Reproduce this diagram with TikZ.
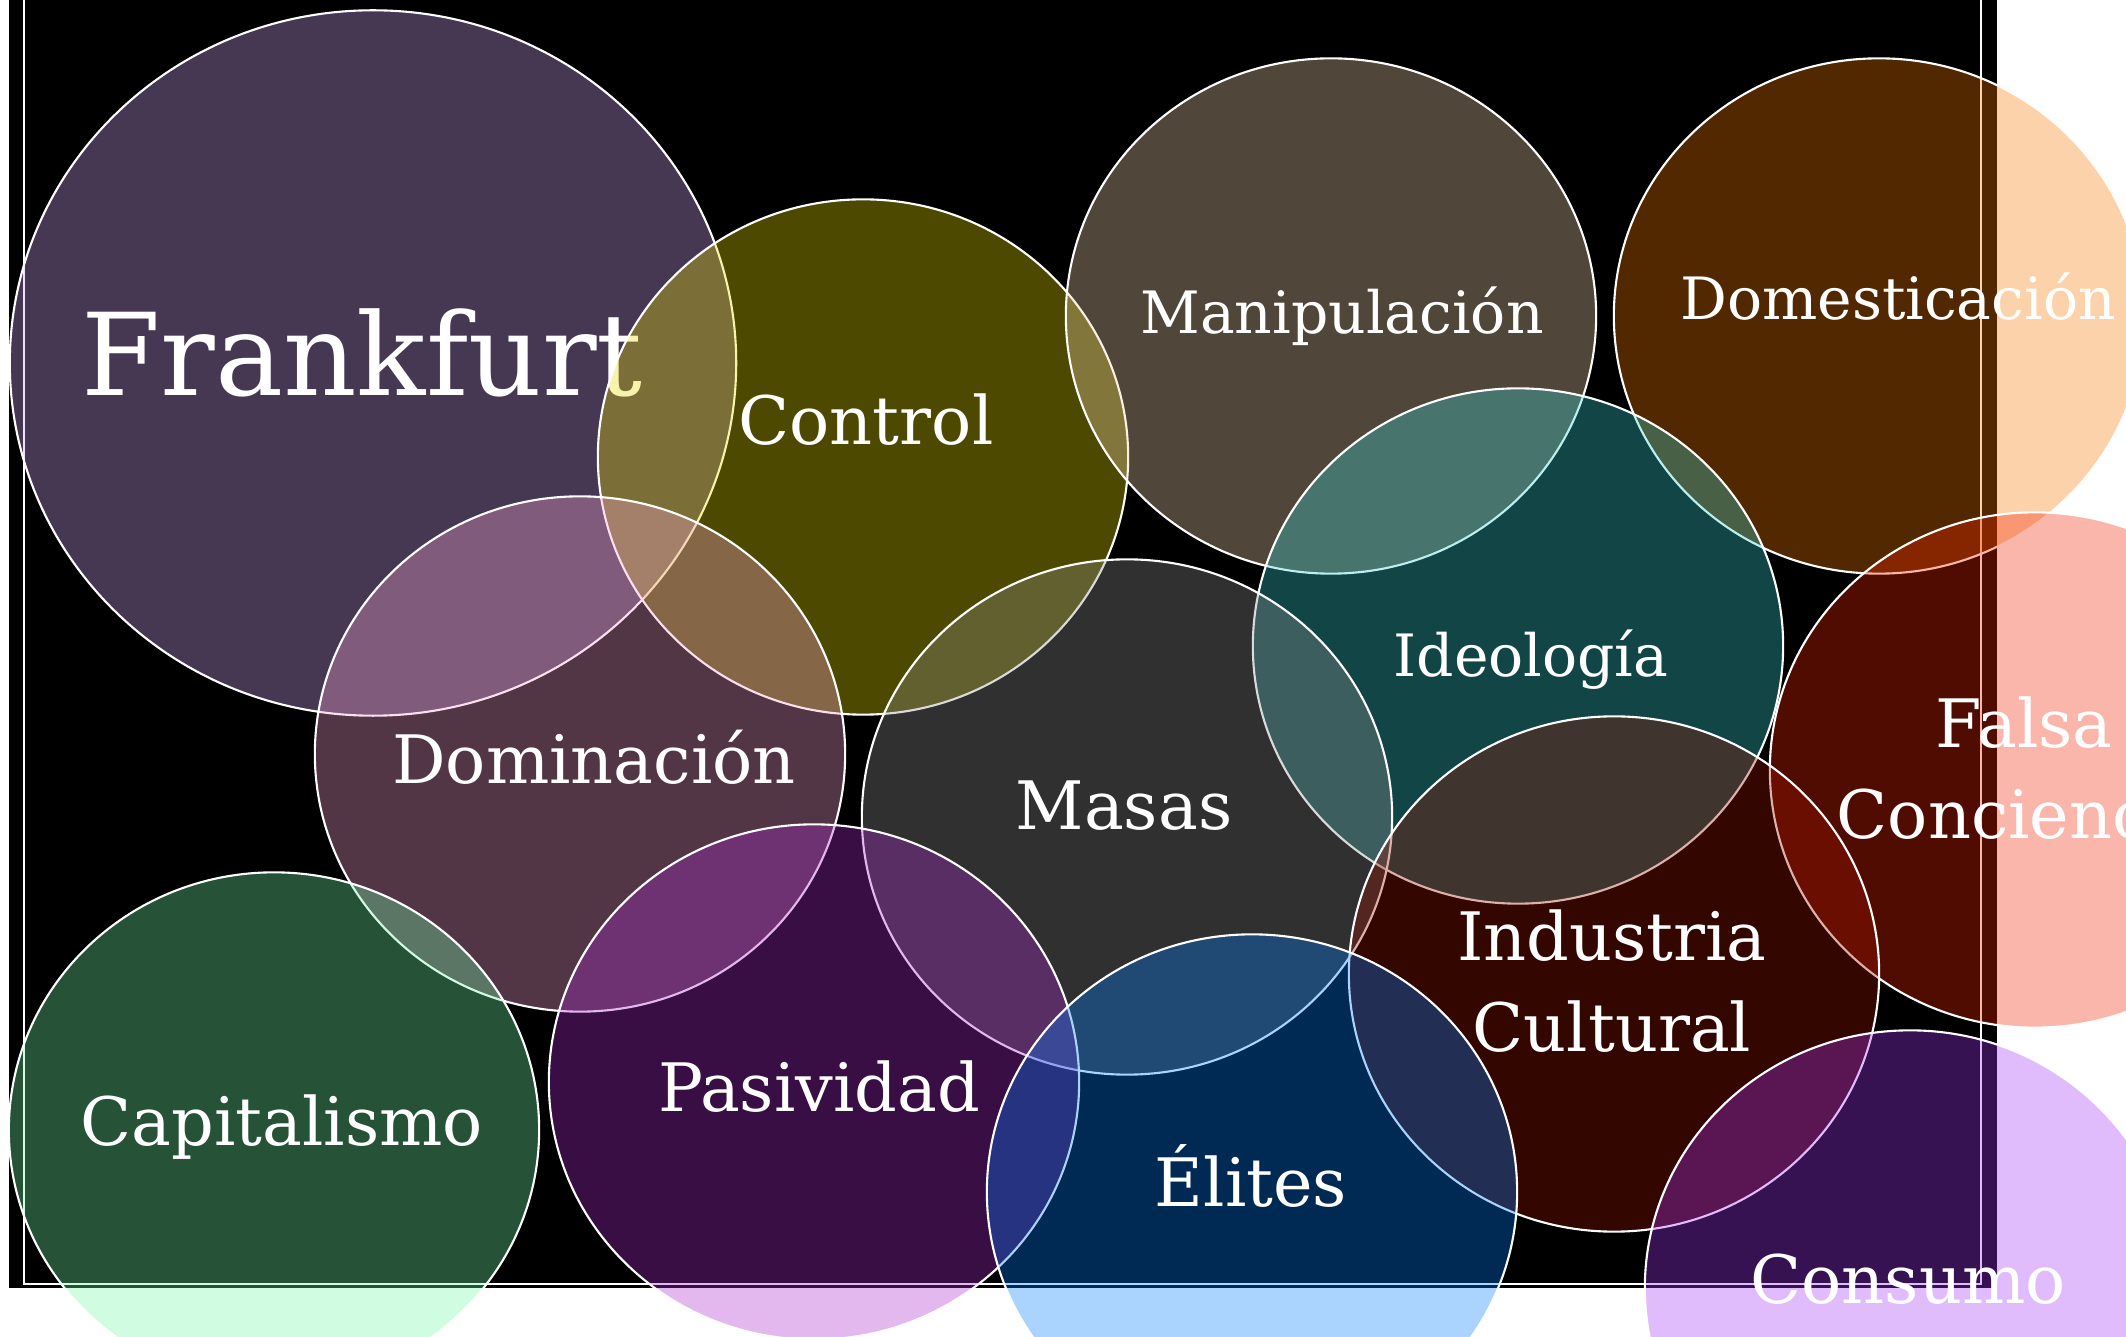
\documentclass[tikz,border=0pt]{standalone}
\usepackage{fontspec}
\usetikzlibrary{shapes.geometric}
\setmainfont{DejaVu Serif}
\definecolor{cFrank}{RGB}{210,168,246}
\definecolor{cControl}{RGB}{231,219,0}
\definecolor{cManip}{RGB}{240,210,174}
\definecolor{cDomest}{RGB}{246,120,0}
\definecolor{cIdeo}{RGB}{54,210,210}
\definecolor{cDomin}{RGB}{246,162,210}
\definecolor{cMasas}{RGB}{144,144,144}
\definecolor{cFalsa}{RGB}{240,36,0}
\definecolor{cIndus}{RGB}{156,18,0}
\definecolor{cCapit}{RGB}{114,246,168}
\definecolor{cPasiv}{RGB}{168,42,204}
\definecolor{cElites}{RGB}{0,126,252}
\definecolor{cConsumo}{RGB}{165,54,249}
\tikzset{
  bubble/.style={ellipse, draw=white, line width=0.6pt, fill opacity=0.333, draw opacity=1, minimum width=5.3cm, minimum height=5.15cm, inner sep=0pt},
  word/.style={text=white, font=\fontsize{19}{26}\selectfont, align=center, inner sep=0pt},
  smallword/.style={text=white, font=\fontsize{16.6}{23}\selectfont, inner sep=0pt},
  bigword/.style={text=white, font=\fontsize{32.5}{40}\selectfont, inner sep=0pt}
}
\begin{document}
\begin{tikzpicture}[x=0.01cm, y=-0.01cm]
\useasboundingbox (0,0) rectangle (2126,1337);
\clip (0,0) rectangle (2126,1337);
\fill[black] (9,-20) rectangle (1997,1288);
\draw[white, line width=0.5pt] (24,-10) rectangle (1981,1284);

\node[bubble, fill=cFrank, minimum width=7.26cm, minimum height=7.05cm] (cfrank) at (373,363) {};
\node[bigword, anchor=base] (tfrank) at (362,396) {Frankfurt};

\node[bubble, fill=cControl] (ccontrol) at (863,457) {};
\node[word, anchor=base] (tcontrol) at (866,445) {Control};

\node[bubble, fill=cManip] (cmanip) at (1331,316) {};
\node[smallword, anchor=base] (tmanip) at (1342,334) {Manipulación};

\node[bubble, fill=cDomest] (cdomest) at (1879,316) {};
\node[smallword, anchor=base] (tdomest) at (1898,320) {Domesticación};

\node[bubble, fill=cIdeo] (cideo) at (1518,646) {};
\node[smallword, anchor=base] (tideo) at (1531,677) {Ideología};

\node[bubble, fill=cDomin] (cdomin) at (580,754) {};
\node[word, anchor=base] (tdomin) at (594,784) {Dominación};

\node[bubble, fill=cMasas] (cmasas) at (1127,817) {};
\node[word, anchor=base] (tmasas) at (1124,830) {Masas};

\node[bubble, fill=cFalsa] (cfalsa) at (2035,770) {};
\node[word, anchor=center] (tfalsa) at (2024,768) {Falsa\\Conciencia};

\node[bubble, fill=cIndus] (cindus) at (1614,974) {};
\node[word, anchor=center] (tindus) at (1612,981) {Industria\\Cultural};

\node[bubble, fill=cCapit] (ccapit) at (274,1130) {};
\node[word, anchor=base] (tcapit) at (282,1146) {Capitalismo};

\node[bubble, fill=cPasiv] (cpasiv) at (814,1082) {};
\node[word, anchor=base] (tpasiv) at (819,1112) {Pasividad};

\node[bubble, fill=cElites] (celites) at (1252,1192) {};
\node[word, anchor=base] (telites) at (1251,1207) {Élites};

\node[bubble, fill=cConsumo] (cconsumo) at (1910,1288) {};
\node[word, anchor=base] (tconsumo) at (1908,1304) {Consumo};
\end{tikzpicture}
\end{document}
